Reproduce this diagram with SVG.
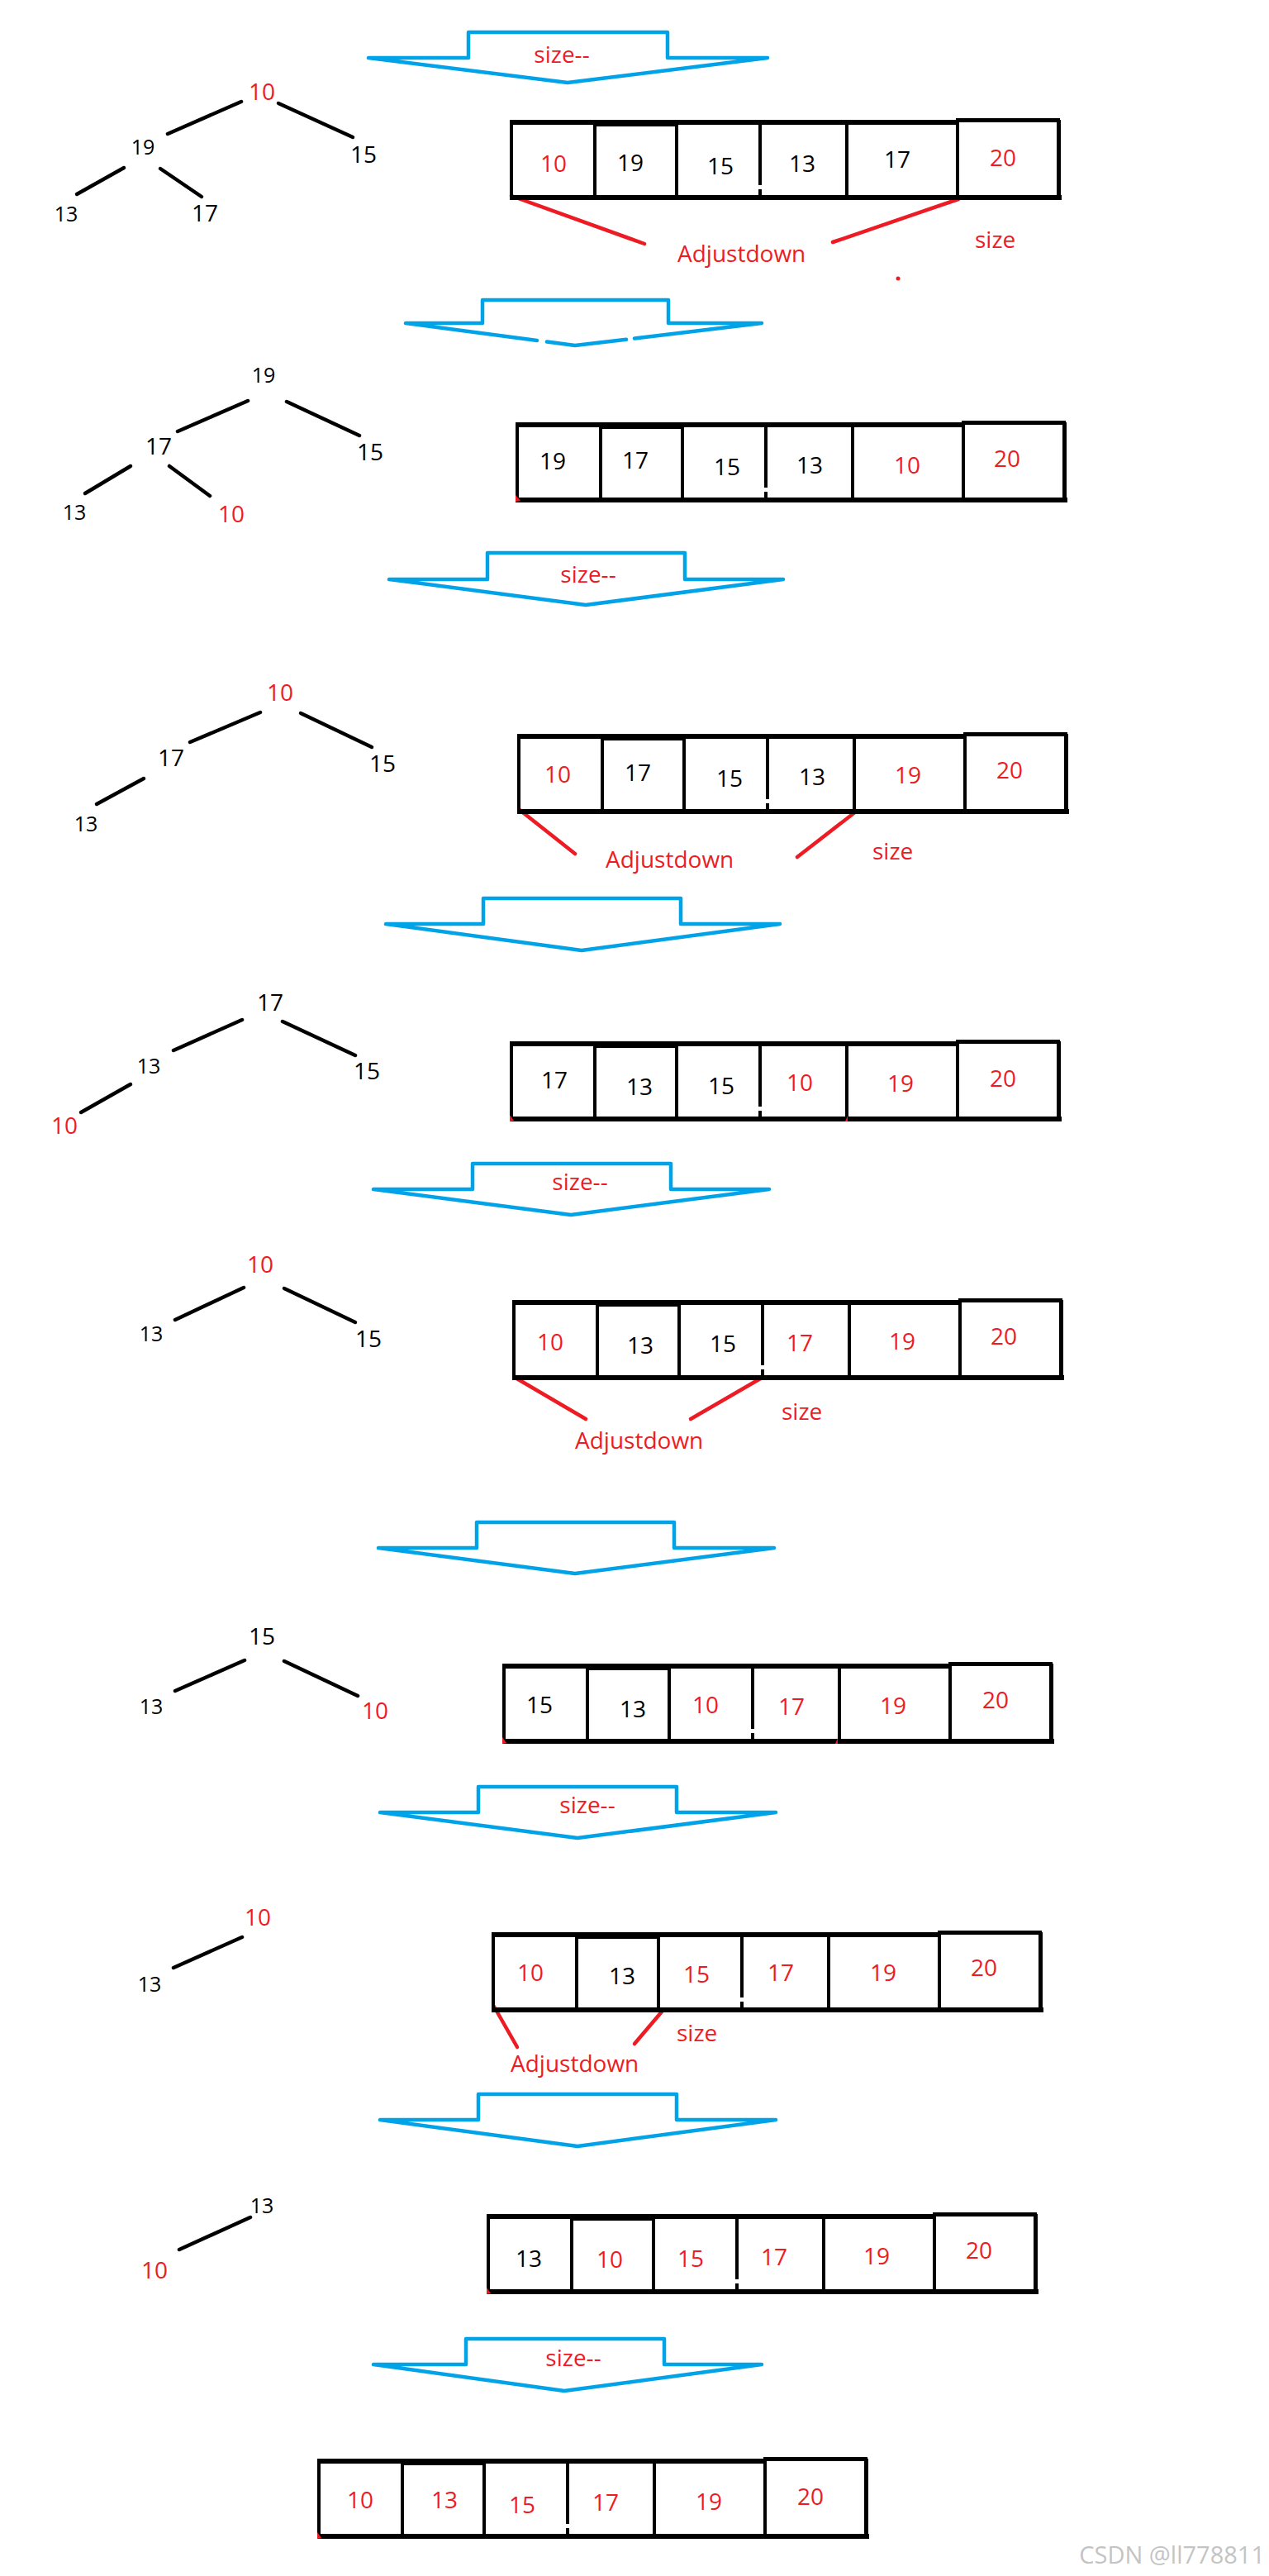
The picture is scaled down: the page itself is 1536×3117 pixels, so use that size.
<svg xmlns="http://www.w3.org/2000/svg" width="1536" height="3117" viewBox="0 0 1536 3117">
<style>
text{font-family:"Open Sans","Noto Sans","Liberation Sans",sans-serif;font-size:28px}
.c{text-anchor:middle}
.sm{font-size:25px}
.k{fill:#000}
.r{fill:#ed1c24}
.wm{fill:#c4c4c4;font-size:29px;text-anchor:end}
.edge{stroke:#000;stroke-width:4.5;stroke-linecap:round;fill:none}
.rl{stroke:#ed1c24;stroke-width:4.5;stroke-linecap:round;fill:none}
.arrow{fill:none;stroke:#00a2e8;stroke-width:4.5;stroke-linejoin:round;stroke-linecap:round}
.mk{fill:#ed1c24}
</style>
<defs>
<g id="frame">
<rect x="-2" y="0" width="544" height="6" fill="#000"/>
<rect x="101" y="0" width="99" height="8" fill="#000"/>
<rect x="540" y="-2" width="124" height="5" fill="#000"/>
<rect x="-2" y="91" width="668" height="6" fill="#000"/>
<rect x="-2" y="0" width="4" height="97" fill="#000"/>
<rect x="99" y="0" width="4" height="97" fill="#000"/>
<rect x="198" y="0" width="4" height="97" fill="#000"/>
<rect x="299" y="0" width="4" height="97" fill="#000"/>
<rect x="299" y="79" width="5" height="5" fill="#fff"/>
<rect x="404" y="0" width="4" height="97" fill="#000"/>
<rect x="538" y="-2" width="4" height="99" fill="#000"/>
<rect x="660" y="0" width="5" height="97" fill="#000"/>
</g>
</defs>
<rect width="1536" height="3117" fill="#fff"/>

<g id="connectors">
<line class="edge" x1="292" y1="123" x2="203" y2="162"/>
<line class="edge" x1="337" y1="125" x2="427" y2="166"/>
<line class="edge" x1="150" y1="203" x2="93" y2="235"/>
<line class="edge" x1="194" y1="204" x2="244" y2="238"/>

<line class="edge" x1="300" y1="485" x2="215" y2="522"/>
<line class="edge" x1="347" y1="486" x2="435" y2="527"/>
<line class="edge" x1="158" y1="564" x2="103" y2="597"/>
<line class="edge" x1="205" y1="564" x2="254" y2="600"/>

<line class="edge" x1="315" y1="862" x2="230" y2="898"/>
<line class="edge" x1="364" y1="863" x2="450" y2="904"/>
<line class="edge" x1="174" y1="942" x2="117" y2="973"/>

<line class="edge" x1="293" y1="1234" x2="210" y2="1271"/>
<line class="edge" x1="342" y1="1236" x2="430" y2="1277"/>
<line class="edge" x1="158" y1="1312" x2="98" y2="1346"/>

<line class="edge" x1="295" y1="1558" x2="212" y2="1597"/>
<line class="edge" x1="344" y1="1559" x2="430" y2="1600"/>

<line class="edge" x1="296" y1="2009" x2="212" y2="2046"/>
<line class="edge" x1="344" y1="2010" x2="433" y2="2052"/>

<line class="edge" x1="293" y1="2344" x2="210" y2="2381"/>

<line class="edge" x1="303" y1="2683" x2="217" y2="2722"/>

<line class="rl" x1="619" y1="237" x2="780" y2="295"/>
<line class="rl" x1="1160" y1="241" x2="1008" y2="293"/>
<line class="rl" x1="629" y1="980" x2="696" y2="1033"/>
<line class="rl" x1="1036" y1="982" x2="965" y2="1037"/>
<line class="rl" x1="622" y1="1666" x2="709" y2="1717"/>
<line class="rl" x1="924" y1="1666" x2="836" y2="1717"/>
<line class="rl" x1="598" y1="2428" x2="626" y2="2477"/>
<line class="rl" x1="802" y1="2433" x2="768" y2="2473"/>
</g>

<g id="transitions">
<g id="arrow1"><path class="arrow" d="M446,70 L567,70 L567,39 L808,39 L808,70 L929,70 L687,100 Z"/><text class="c r" x="680" y="76">size--</text></g>
<g id="arrow2"><path class="arrow" d="M696,418 L662,413.5 M650,412 L491,391 L584,391 L584,363 L809,363 L809,391 L922,391 L768,409.6 M758,410.8 L696,418"/></g>
<g id="arrow3"><path class="arrow" d="M471,701 L590,701 L590,669 L829,669 L829,701 L948,701 L709,732 Z"/><text class="c r" x="712" y="705">size--</text></g>
<g id="arrow4"><path class="arrow" d="M467,1118 L585,1118 L585,1087 L824,1087 L824,1118 L944,1118 L704,1150 Z"/></g>
<g id="arrow5"><path class="arrow" d="M452,1439 L572,1439 L572,1408 L812,1408 L812,1439 L931,1439 L691,1470 Z"/><text class="c r" x="702" y="1440">size--</text></g>
<g id="arrow6"><path class="arrow" d="M458,1873 L577,1873 L577,1842 L816,1842 L816,1873 L937,1873 L696,1904 Z"/></g>
<g id="arrow7"><path class="arrow" d="M460,2193 L579,2193 L579,2162 L819,2162 L819,2193 L939,2193 L699,2224 Z"/><text class="c r" x="711" y="2194">size--</text></g>
<g id="arrow8"><path class="arrow" d="M460,2565 L579,2565 L579,2534 L819,2534 L819,2565 L939,2565 L699,2597 Z"/></g>
<g id="arrow9"><path class="arrow" d="M452,2861 L564,2861 L564,2830 L804,2830 L804,2861 L922,2861 L683,2893 Z"/><text class="c r" x="694" y="2863">size--</text></g>
</g>

<g id="s1-tree">
<g id="s1-n10"><text class="c r" x="317" y="121">10</text></g>
<g id="s1-n19"><text class="c k sm" x="173" y="187">19</text></g>
<g id="s1-n15"><text class="c k" x="440" y="197">15</text></g>
<g id="s1-n13"><text class="c k sm" x="80" y="268">13</text></g>
<g id="s1-n17"><text class="c k" x="248" y="268">17</text></g>
</g>
<g id="s1-array">
<use href="#frame" x="619" y="145"/>
<text class="c r" x="670" y="208">10</text>
<text class="c k" x="763" y="207">19</text>
<text class="c k" x="872" y="211">15</text>
<text class="c k" x="971" y="208">13</text>
<text class="c k" x="1086" y="203">17</text>
<text class="c r" x="1214" y="201">20</text>
</g>
<g id="s1-labels">
<text class="r" x="820" y="317">Adjustdown</text>
<text class="r" x="1180" y="300">size</text>
<circle class="mk" cx="1087" cy="337" r="2.5"/>
</g>

<g id="s2-tree">
<g id="s2-n19"><text class="c k sm" x="319" y="463">19</text></g>
<g id="s2-n17"><text class="c k" x="192" y="550">17</text></g>
<g id="s2-n15"><text class="c k" x="448" y="557">15</text></g>
<g id="s2-n13"><text class="c k sm" x="90" y="629">13</text></g>
<g id="s2-n10"><text class="c r" x="280" y="632">10</text></g>
</g>
<g id="s2-array">
<use href="#frame" x="626" y="511"/>
<text class="c k" x="669" y="568">19</text>
<text class="c k" x="769" y="567">17</text>
<text class="c k" x="880" y="575">15</text>
<text class="c k" x="980" y="573">13</text>
<text class="c r" x="1098" y="573">10</text>
<text class="c r" x="1219" y="565">20</text>
<path class="mk" d="M624,599 L630,606 L624,607 Z"/>
</g>

<g id="s3-tree">
<g id="s3-n10"><text class="c r" x="339" y="848">10</text></g>
<g id="s3-n17"><text class="c k" x="207" y="927">17</text></g>
<g id="s3-n15"><text class="c k" x="463" y="934">15</text></g>
<g id="s3-n13"><text class="c k sm" x="104" y="1006">13</text></g>
</g>
<g id="s3-array">
<use href="#frame" x="628" y="888"/>
<text class="c r" x="675" y="947">10</text>
<text class="c k" x="772" y="945">17</text>
<text class="c k" x="883" y="952">15</text>
<text class="c k" x="983" y="950">13</text>
<text class="c r" x="1099" y="948">19</text>
<text class="c r" x="1222" y="942">20</text>
</g>
<g id="s3-labels">
<text class="r" x="733" y="1050">Adjustdown</text>
<text class="r" x="1056" y="1040">size</text>
</g>

<g id="s4-tree">
<g id="s4-n17"><text class="c k" x="327" y="1223">17</text></g>
<g id="s4-n13"><text class="c k sm" x="180" y="1299">13</text></g>
<g id="s4-n15"><text class="c k" x="444" y="1306">15</text></g>
<g id="s4-n10"><text class="c r" x="78" y="1372">10</text></g>
</g>
<g id="s4-array">
<use href="#frame" x="619" y="1260"/>
<text class="c k" x="671" y="1317">17</text>
<text class="c k" x="774" y="1325">13</text>
<text class="c k" x="873" y="1324">15</text>
<text class="c r" x="968" y="1320">10</text>
<text class="c r" x="1090" y="1321">19</text>
<text class="c r" x="1214" y="1315">20</text>
<path class="mk" d="M617,1349 L622,1356 L617,1357 Z"/>
<path class="mk" d="M1026,1350 L1023,1357 L1026,1357 Z"/>
</g>

<g id="s5-tree">
<g id="s5-n10"><text class="c r" x="315" y="1540">10</text></g>
<g id="s5-n13"><text class="c k sm" x="183" y="1623">13</text></g>
<g id="s5-n15"><text class="c k" x="446" y="1630">15</text></g>
</g>
<g id="s5-array">
<use href="#frame" x="622" y="1573"/>
<text class="c r" x="666" y="1634">10</text>
<text class="c k" x="775" y="1638">13</text>
<text class="c k" x="875" y="1636">15</text>
<text class="c r" x="968" y="1635">17</text>
<text class="c r" x="1092" y="1633">19</text>
<text class="c r" x="1215" y="1627">20</text>
</g>
<g id="s5-labels">
<text class="r" x="946" y="1718">size</text>
<text class="r" x="696" y="1753">Adjustdown</text>
</g>

<g id="s6-tree">
<g id="s6-n15"><text class="c k" x="317" y="1990">15</text></g>
<g id="s6-n13"><text class="c k sm" x="183" y="2074">13</text></g>
<g id="s6-n10"><text class="c r" x="454" y="2080">10</text></g>
</g>
<g id="s6-array">
<use href="#frame" x="610" y="2013"/>
<text class="c k" x="653" y="2073">15</text>
<text class="c k" x="766" y="2078">13</text>
<text class="c r" x="854" y="2073">10</text>
<text class="c r" x="958" y="2075">17</text>
<text class="c r" x="1081" y="2074">19</text>
<text class="c r" x="1205" y="2067">20</text>
<path class="mk" d="M608,2102 L613,2109 L608,2110 Z"/>
<path class="mk" d="M1014,2103 L1011,2110 L1014,2110 Z"/>
</g>

<g id="s7-tree">
<g id="s7-n10"><text class="c r" x="312" y="2330">10</text></g>
<g id="s7-n13"><text class="c k sm" x="181" y="2410">13</text></g>
</g>
<g id="s7-array">
<use href="#frame" x="597" y="2338"/>
<text class="c r" x="642" y="2397">10</text>
<text class="c k" x="753" y="2401">13</text>
<text class="c r" x="843" y="2399">15</text>
<text class="c r" x="945" y="2397">17</text>
<text class="c r" x="1069" y="2397">19</text>
<text class="c r" x="1191" y="2391">20</text>
</g>
<g id="s7-labels">
<text class="r" x="819" y="2470">size</text>
<text class="r" x="618" y="2507">Adjustdown</text>
</g>

<g id="s8-tree">
<g id="s8-n13"><text class="c k sm" x="317" y="2678">13</text></g>
<g id="s8-n10"><text class="c r" x="187" y="2757">10</text></g>
</g>
<g id="s8-array">
<use href="#frame" x="591" y="2679"/>
<text class="c k" x="640" y="2743">13</text>
<text class="c r" x="738" y="2744">10</text>
<text class="c r" x="836" y="2743">15</text>
<text class="c r" x="937" y="2741">17</text>
<text class="c r" x="1061" y="2740">19</text>
<text class="c r" x="1185" y="2733">20</text>
<path class="mk" d="M589,2768 L594,2775 L589,2776 Z"/>
</g>

<g id="s9-array">
<use href="#frame" x="386" y="2975"/>
<text class="c r" x="436" y="3035">10</text>
<text class="c r" x="538" y="3035">13</text>
<text class="c r" x="632" y="3041">15</text>
<text class="c r" x="733" y="3038">17</text>
<text class="c r" x="858" y="3037">19</text>
<text class="c r" x="981" y="3031">20</text>
<path class="mk" d="M384,3064 L389,3071 L384,3072 Z"/>
</g>

<text class="wm" x="1531" y="3102">CSDN @ll778811</text>
</svg>
